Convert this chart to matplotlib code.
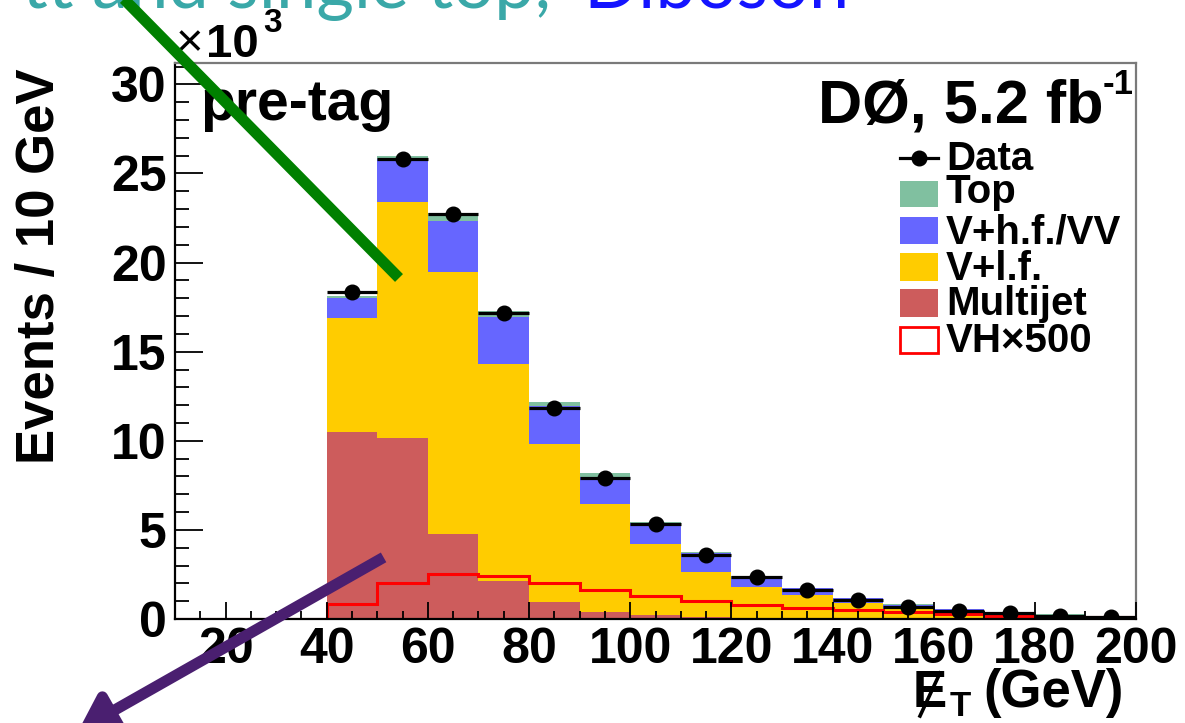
import matplotlib
matplotlib.use("Agg")
import matplotlib.pyplot as plt
import numpy as np
from matplotlib.lines import Line2D
from matplotlib.patches import Rectangle, FancyArrowPatch
from matplotlib.ticker import MultipleLocator

W, H = 1185, 723

# ---------------- data (units of 10^3 events / 10 GeV) ----------------
bin_edges = [10, 20, 30, 40, 50, 60, 70, 80, 90, 100, 110, 120, 130, 140, 150, 160, 170, 180, 190, 200]
multijet = [0, 0, 0, 10.47, 10.15, 4.76, 2.13, 0.97, 0.38, 0.20, 0.12, 0.08, 0.06, 0.04, 0.03, 0.02, 0.02, 0.01, 0.01]
v_lf     = [0, 0, 0, 6.42, 13.24, 14.70, 12.20, 8.84, 6.08, 4.00, 2.54, 1.73, 1.29, 0.84, 0.51, 0.32, 0.20, 0.14, 0.09]
v_hf     = [0, 0, 0, 1.13, 2.44, 2.86, 2.62, 2.12, 1.50, 1.19, 1.03, 0.57, 0.37, 0.28, 0.25, 0.22, 0.16, 0.10, 0.07]
top      = [0, 0, 0, 0.08, 0.17, 0.47, 0.31, 0.27, 0.26, 0.08, 0.07, 0.05, 0.04, 0.03, 0.03, 0.02, 0.01, 0.01, 0.01]
vh500    = [0, 0, 0, 0.84, 2.04, 2.53, 2.42, 2.04, 1.63, 1.29, 1.03, 0.79, 0.63, 0.50, 0.38, 0.26, 0.19, 0.13, 0.10]
data     = [0, 0, 0, 18.37, 25.79, 22.75, 17.19, 11.84, 7.94, 5.32, 3.60, 2.37, 1.64, 1.07, 0.69, 0.47, 0.32, 0.19, 0.13]

x_ticks = [20, 40, 60, 80, 100, 120, 140, 160, 180, 200]
y_ticks = [0, 5, 10, 15, 20, 25, 30]

c_top, c_vhf, c_vlf, c_mj, c_vh = "#80c0a0", "#6666ff", "#ffcc00", "#cd5c5c", "#ff0000"

FONT = "Liberation Sans"

fig = plt.figure(figsize=(W / 100, H / 100), dpi=100)
fig.patch.set_facecolor("white")


def P(x, y):
    return (x / W, 1 - y / H)


ax_l, ax_r, ax_t, ax_b = 175, 1136, 63, 619
ax = fig.add_axes([ax_l / W, 1 - ax_b / H, (ax_r - ax_l) / W, (ax_b - ax_t) / H])

edges = np.array(bin_edges, dtype=float)
left = edges[:-1]
widths = np.diff(edges)
centers = left + widths / 2

bottom = np.zeros(len(left))
for vals, col in [(multijet, c_mj), (v_lf, c_vlf), (v_hf, c_vhf), (top, c_top)]:
    v = np.array(vals)
    ax.bar(left, v, width=widths, bottom=bottom, align="edge", color=col,
           edgecolor="none", linewidth=0, zorder=1)
    bottom = bottom + v

# VH x 500 outline
ax.stairs(vh500, edges, color=c_vh, linewidth=2.2, zorder=2)

# data
d = np.array(data)
m = d > 0
ax.errorbar(centers[m], d[m], xerr=widths[m] / 2, fmt="o", color="black",
            ms=10.5, elinewidth=2.3, capsize=0, zorder=4)

ax.set_xlim(10, 200)
ax.set_ylim(0, 31.2)

ax.xaxis.set_minor_locator(MultipleLocator(5))
ax.yaxis.set_minor_locator(MultipleLocator(1))
ax.set_xticks(x_ticks)
ax.set_xticklabels([str(t) for t in x_ticks])
ax.set_yticks(y_ticks)
ax.set_yticklabels([str(t) for t in y_ticks])

ax.tick_params(axis="y", which="major", direction="in", length=20, width=1.3, pad=6,
               labelsize=36, right=False)
ax.tick_params(axis="y", which="minor", direction="in", length=10, width=1.3, right=False)
ax.tick_params(axis="x", which="major", direction="in", length=12, width=1.3, pad=6,
               labelsize=36, top=False)
ax.tick_params(axis="x", which="minor", direction="in", length=6, width=1.3, top=False)
for lab in ax.get_xticklabels() + ax.get_yticklabels():
    lab.set_fontfamily(FONT)
    lab.set_fontweight("bold")

for s in ["left", "bottom"]:
    ax.spines[s].set_color("black")
    ax.spines[s].set_linewidth(1.6)
for s in ["top", "right"]:
    ax.spines[s].set_color("#7a7a7a")
    ax.spines[s].set_linewidth(1.6)
ax.set_axisbelow(False)

# axis labels
fig.text(*P(40, 266), "Events / 10 GeV", rotation=90, ha="center", va="center",
         fontsize=38, fontweight="bold", family=FONT)
# x label: E-slash_T (GeV)
fig.text(*P(913, 707), "E", ha="left", va="baseline", fontsize=37, fontweight="bold", family=FONT)
fig.add_artist(Line2D([P(920, 716)[0], P(940, 673)[0]], [P(920, 716)[1], P(940, 673)[1]],
                      color="black", lw=2.6, transform=fig.transFigure))
fig.text(*P(950, 716), "T", ha="left", va="baseline", fontsize=25, fontweight="bold", family=FONT)
fig.text(*P(983, 707), "(GeV)", ha="left", va="baseline", fontsize=38, fontweight="bold", family=FONT)

# x10^3
fig.text(*P(176, 56), "\u00d7", ha="left", va="baseline", fontsize=34, family=FONT)
fig.text(*P(206, 57), "10", ha="left", va="baseline", fontsize=34, fontweight="bold", family=FONT)
fig.text(*P(263, 32), "3", ha="left", va="baseline", fontsize=24, fontweight="bold", family=FONT)

# inner texts
fig.text(*P(200, 120), "pre-tag", ha="left", va="baseline", fontsize=41, fontweight="bold", family=FONT)
fig.text(*P(1104, 123), "D\u00d8, 5.2 fb", ha="right", va="baseline", fontsize=44,
         fontweight="bold", family=FONT)
fig.text(*P(1103, 94), "-1", ha="left", va="baseline", fontsize=25, fontweight="bold", family=FONT)

# legend (manual)
lx0, lx1 = 900, 938
fig.add_artist(Line2D([P(lx0, 158)[0], P(lx1, 158)[0]], [P(lx0, 158)[1]] * 2, color="black",
                      lw=2.3, transform=fig.transFigure))
fig.add_artist(Line2D([P(919, 158)[0]], [P(919, 158)[1]], marker="o", ms=10.5, color="black",
                      transform=fig.transFigure))
leg_items = [
    ("Top", c_top, 181, 207, 203, False),
    ("V+h.f./VV", c_vhf, 217, 244, 243, False),
    ("V+l.f.", c_vlf, 253, 281, 280, False),
    ("Multijet", c_mj, 289, 317, 315, False),
    ("VH\u00d7500", c_vh, 327, 353, 352, True),
]
fig.text(*P(946, 170), "Data", ha="left", va="baseline", fontsize=29, fontweight="bold", family=FONT)
for lab, col, yt, yb, base, outline in leg_items:
    x0, y0 = P(lx0, yb)
    x1, y1 = P(lx1, yt)
    if outline:
        r = Rectangle((x0, y0), x1 - x0, y1 - y0, facecolor="white", edgecolor=col, lw=2.0,
                      transform=fig.transFigure)
    else:
        r = Rectangle((x0, y0), x1 - x0, y1 - y0, facecolor=col, edgecolor="none",
                      transform=fig.transFigure)
    fig.add_artist(r)
    fig.text(*P(946, base), lab, ha="left", va="baseline", fontsize=29, fontweight="bold", family=FONT)

# cut-off annotation text at the top
fig.text(*P(551, 8), "tt and single top,", ha="right", va="baseline", fontsize=52,
         color="#3aa8a8", family="Lato")
fig.text(*P(583, 8), "Diboson", ha="left", va="baseline", fontsize=52, color="#1414ff", family="Lato")

# green annotation line
g0, g1 = P(116, -9), P(399, 278)
fig.add_artist(Line2D([g0[0], g1[0]], [g0[1], g1[1]], color="#008000", lw=8,
                      solid_capstyle="butt", transform=fig.transFigure, zorder=10))

# purple annotation arrow
pa = FancyArrowPatch(P(386, 556), P(76, 732), transform=fig.transFigure,
                     arrowstyle="-|>,head_length=1.4,head_width=0.9", mutation_scale=14,
                     color="#4a1f70", lw=8, capstyle="butt", zorder=10)
fig.add_artist(pa)

fig.savefig("out.png", dpi=100)
